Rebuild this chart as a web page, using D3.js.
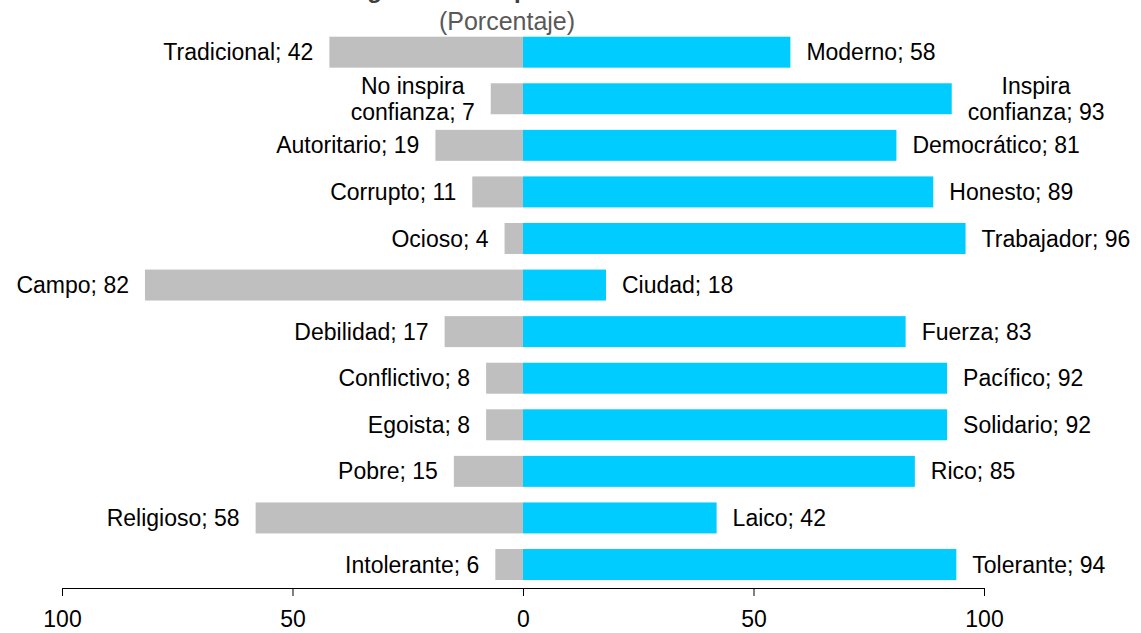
<!DOCTYPE html>
<html>
<head>
<meta charset="utf-8">
<script src="https://cdn.jsdelivr.net/npm/d3@7"></script>
<style>
  body { margin: 0; background: #fff; }
  text { font-family: "Liberation Sans", Arial, sans-serif; }
</style>
</head>
<body>
<script>
// data
const negLabels = ["Tradicional", "No inspira confianza", "Autoritario", "Corrupto", "Ocioso", "Campo",
                   "Debilidad", "Conflictivo", "Egoista", "Pobre", "Religioso", "Intolerante"];
const negValues = [42, 7, 19, 11, 4, 82, 17, 8, 8, 15, 58, 6];
const posLabels = ["Moderno", "Inspira confianza", "Democrático", "Honesto", "Trabajador", "Ciudad",
                   "Fuerza", "Pacífico", "Solidario", "Rico", "Laico", "Tolerante"];
const posValues = [58, 93, 81, 89, 96, 18, 83, 92, 92, 85, 42, 94];
const tickValues = [-100, -50, 0, 50, 100];

const width = 1141, height = 633;

const svg = d3.select('body').append('svg')
    .attr('width', width)
    .attr('height', height);

const x = d3.scaleLinear().domain([-100, 100]).range([62, 984]);
const y = d3.scaleBand().domain(d3.range(negLabels.length)).range([36.7, 580]).paddingInner(0.335).paddingOuter(0);

// title (mostly cut off at the top of the picture) and subtitle
svg.append('text')
    .attr('x', 326).attr('y', -2)
    .attr('font-size', 24).attr('font-weight', 'bold').attr('fill', '#404040')
    .text('Imagen de los diputados');

svg.append('text')
    .attr('x', 507).attr('y', 30)
    .attr('text-anchor', 'middle')
    .attr('font-size', 25).attr('fill', '#595959')
    .text('(Porcentaje)');

const rows = negLabels.map((d, i) => ({
    i: i, neg: d, negV: negValues[i], pos: posLabels[i], posV: posValues[i]
}));

// bars
svg.append('g').selectAll('rect')
    .data(rows).enter().append('rect')
    .attr('x', d => x(-d.negV))
    .attr('y', d => y(d.i))
    .attr('width', d => x(0) - x(-d.negV))
    .attr('height', y.bandwidth())
    .attr('fill', '#BFBFBF');

svg.append('g').selectAll('rect')
    .data(rows).enter().append('rect')
    .attr('x', x(0))
    .attr('y', d => y(d.i))
    .attr('width', d => x(d.posV) - x(0))
    .attr('height', y.bandwidth())
    .attr('fill', '#00CCFF');

// split long labels onto two lines, the value going with the last word
function labelLines(name, v) {
    const full = name + '; ' + v;
    if (name.length < 15) return [full];
    const k = name.lastIndexOf(' ');
    return [name.slice(0, k), name.slice(k + 1) + '; ' + v];
}

function addLabel(g, lines, edge, cy, side) {
    const t = g.append('text')
        .attr('font-size', 23).attr('fill', '#000');
    if (lines.length === 1) {
        t.attr('x', edge).attr('y', cy).attr('dy', '.35em')
            .attr('text-anchor', side < 0 ? 'end' : 'start')
            .text(lines[0]);
        return;
    }
    const spans = lines.map((l, j) => t.append('tspan')
        .attr('y', cy + (j - (lines.length - 1) / 2) * 26)
        .attr('dy', '.35em')
        .text(l));
    const maxW = d3.max(spans, s => s.node().getComputedTextLength());
    const cx = side < 0 ? edge - maxW / 2 : edge + maxW / 2;
    t.attr('text-anchor', 'middle');
    spans.forEach(s => s.attr('x', cx));
}

const labels = svg.append('g');
rows.forEach(d => {
    const cy = y(d.i) + y.bandwidth() / 2;
    addLabel(labels, labelLines(d.neg, d.negV), x(-d.negV) - 16, cy, -1);
    addLabel(labels, labelLines(d.pos, d.posV), x(d.posV) + 16, cy, 1);
});

// axis
const axis = svg.append('g')
    .attr('transform', 'translate(0,588)')
    .call(d3.axisBottom(x)
        .tickValues(tickValues)
        .tickSize(8)
        .tickPadding(15)
        .tickFormat(d => Math.abs(d)));

axis.select('.domain').attr('stroke', '#000');
axis.selectAll('.tick line').attr('stroke', '#000');
axis.selectAll('.tick text')
    .attr('font-size', 23)
    .attr('fill', '#000')
    .attr('font-family', '"Liberation Sans", Arial, sans-serif');
</script>
</body>
</html>
